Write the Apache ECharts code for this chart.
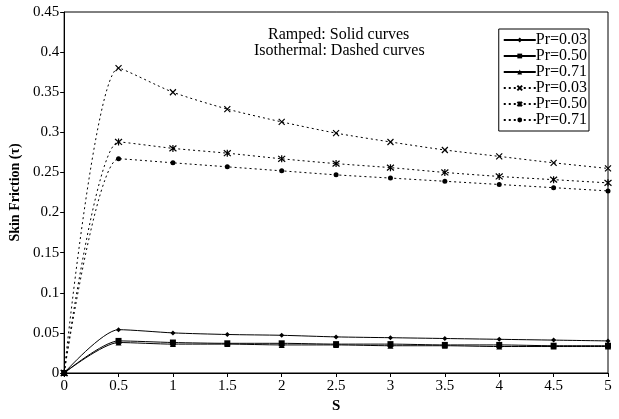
<!DOCTYPE html>
<html>
<head>
<meta charset="utf-8">
<script src="https://cdn.jsdelivr.net/npm/echarts@6/dist/echarts.min.js"></script>
<style>
  html, body { margin: 0; padding: 0; background: #fff; }
  #main { width: 619px; height: 419px; }
</style>
</head>
<body>
<div id="main"></div>
<script>
var myChart = echarts.init(document.getElementById("main"));

const sValues = [0, 0.5, 1, 1.5, 2, 2.5, 3, 3.5, 4, 4.5, 5];
const rampedPr003 = [0, 0.054, 0.050, 0.048, 0.047, 0.045, 0.044, 0.043, 0.042, 0.041, 0.040];
const rampedPr050 = [0, 0.040, 0.038, 0.037, 0.037, 0.036, 0.036, 0.035, 0.035, 0.034, 0.034];
const rampedPr071 = [0, 0.038, 0.036, 0.036, 0.035, 0.035, 0.034, 0.034, 0.033, 0.033, 0.033];
const isoPr003 = [0, 0.380, 0.350, 0.329, 0.313, 0.299, 0.288, 0.278, 0.270, 0.262, 0.255];
const isoPr050 = [0, 0.288, 0.280, 0.274, 0.267, 0.261, 0.256, 0.250, 0.245, 0.241, 0.237];
const isoPr071 = [0, 0.267, 0.262, 0.257, 0.252, 0.247, 0.243, 0.239, 0.235, 0.231, 0.227];

const font = "'Liberation Serif', 'Times New Roman', serif";
const crossPath = "path://M0,0L10,10M10,0L0,10";
const starPath = "path://M0,0L10,10M10,0L0,10M5,-1L5,11";

function pairs(ys) {
  return sValues.map(function (x, i) { return [x, ys[i]]; });
}

function solid(name, ys, symbol, size) {
  return {
    name: name, type: "line", data: pairs(ys), smooth: 0.25,
    symbol: symbol, symbolSize: size,
    lineStyle: { color: "#000", width: 1 },
    itemStyle: { color: "#000" }
  };
}

function dashed(name, ys, symbol, size, stroked) {
  return {
    name: name, type: "line", data: pairs(ys), smooth: 0.25,
    symbol: symbol, symbolSize: size,
    lineStyle: { color: "#000", width: 1, type: [2, 3] },
    itemStyle: stroked
      ? { color: "#fff", borderColor: "#000", borderWidth: 1.2 }
      : { color: "#000" }
  };
}

option = {
  animation: false,
  backgroundColor: "#fff",
  textStyle: { fontFamily: font, color: "#000" },
  grid: { left: 63, right: 11, top: 12, bottom: 43, show: true, borderColor: "#000", borderWidth: 1 },
  xAxis: {
    type: "value", min: 0, max: 5, interval: 0.5,
    name: "S", nameLocation: "middle", nameGap: 26,
    nameTextStyle: { fontFamily: font, fontWeight: "bold", fontSize: 15, color: "#000" },
    axisLine: { lineStyle: { color: "#000" } },
    axisTick: { lineStyle: { color: "#000" }, length: 4 },
    axisLabel: { fontFamily: font, fontSize: 15, color: "#000", margin: 6 },
    splitLine: { show: false }
  },
  yAxis: {
    type: "value", min: 0, max: 0.45, interval: 0.05,
    name: "Skin Friction (τ)", nameLocation: "middle", nameGap: 38,
    nameTextStyle: { fontFamily: font, fontWeight: "bold", fontSize: 14, color: "#000" },
    axisLine: { show: true, lineStyle: { color: "#000" } },
    axisTick: { show: true, lineStyle: { color: "#000" }, length: 4 },
    axisLabel: { fontFamily: font, fontSize: 15, color: "#000", margin: 5 },
    splitLine: { show: false }
  },
  legend: {
    orient: "vertical", right: 30, top: 29,
    backgroundColor: "#fff", borderColor: "#000", borderWidth: 1,
    padding: [3, 2, 3, 4], itemGap: 0, itemWidth: 32, itemHeight: 6,
    textStyle: { fontFamily: font, fontSize: 16, color: "#000", padding: [0, 0, 0, -5], lineHeight: 15 },
    data: ["Pr=0.03", "Pr=0.50", "Pr=0.71", "Pr=0.03 ", "Pr=0.50 ", "Pr=0.71 "],
    formatter: function (n) { return n.trim(); }
  },
  graphic: [
    {
      type: "text", left: 268, top: 27,
      style: { text: "Ramped: Solid curves", font: "16px " + font, fill: "#000" }
    },
    {
      type: "text", left: 254, top: 43,
      style: { text: "Isothermal: Dashed curves", font: "16px " + font, fill: "#000" }
    }
  ],
  series: [
    solid("Pr=0.03", rampedPr003, "diamond", 5),
    solid("Pr=0.50", rampedPr050, "rect", 6),
    solid("Pr=0.71", rampedPr071, "triangle", 6),
    dashed("Pr=0.03 ", isoPr003, crossPath, 6, true),
    dashed("Pr=0.50 ", isoPr050, starPath, 7, true),
    dashed("Pr=0.71 ", isoPr071, "circle", 5, false)
  ]
};

myChart.setOption(option);
</script>
</body>
</html>
